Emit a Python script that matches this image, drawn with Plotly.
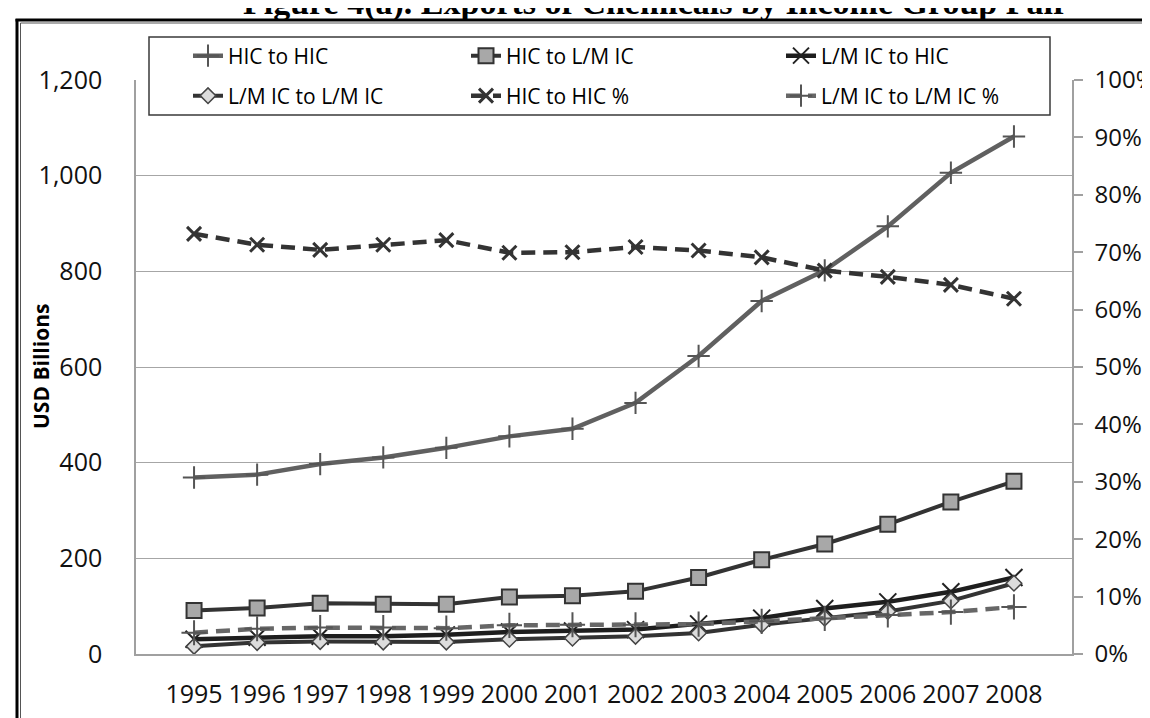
import plotly.graph_objects as go

years = ["1995", "1996", "1997", "1998", "1999", "2000", "2001",
         "2002", "2003", "2004", "2005", "2006", "2007", "2008"]

hic_to_hic = [369, 375, 397, 411, 431, 455, 471, 525, 623, 738, 802, 894, 1006, 1082]
hic_to_lmic = [91, 96, 106, 104, 104, 119, 122, 131, 160, 197, 230, 271, 318, 361]
lmic_to_hic = [31, 35, 37, 37, 40, 46, 48, 51, 63, 75, 95, 109, 130, 160]
lmic_to_lmic = [16, 24, 26, 25, 25, 31, 33, 37, 44, 61, 75, 89, 111, 148]
hic_to_hic_pct = [0.732, 0.713, 0.704, 0.713, 0.721, 0.699, 0.700, 0.709, 0.703,
                  0.691, 0.668, 0.657, 0.643, 0.619]
lmic_to_lmic_pct = [0.037, 0.044, 0.046, 0.046, 0.045, 0.050, 0.051, 0.051, 0.052,
                    0.057, 0.062, 0.068, 0.073, 0.082]

W, H = 1150, 718
L, R, T, B = 128, 1064, 72, 646


def px(x):
    return (x - L) / (R - L)


def py(y):
    return (B - y) / (B - T)


FONT = "Open Sans"
TICK = 25
LEG = 21

fig = go.Figure()

fig.add_trace(go.Scatter(
    x=years, y=hic_to_hic, name="HIC to HIC", mode="lines+markers", legend="legend",
    line=dict(color="#606060", width=4.5),
    marker=dict(symbol="cross-thin", size=16, line=dict(color="#555555", width=2))))

fig.add_trace(go.Scatter(
    x=years, y=hic_to_lmic, name="HIC to L/M IC", mode="lines+markers", legend="legend2",
    line=dict(color="#333333", width=4),
    marker=dict(symbol="square", size=15, color="#a8a8a8",
                line=dict(color="#333333", width=2))))

fig.add_trace(go.Scatter(
    x=years, y=lmic_to_hic, name="L/M IC to HIC", mode="lines+markers", legend="legend3",
    line=dict(color="#1e1e1e", width=4.5),
    marker=dict(symbol="x-thin", size=17, line=dict(color="#222222", width=2))))

fig.add_trace(go.Scatter(
    x=years, y=lmic_to_lmic, name="L/M IC to L/M IC", mode="lines+markers", legend="legend4",
    line=dict(color="#333333", width=4),
    marker=dict(symbol="diamond", size=12, color="#dcdcdc",
                line=dict(color="#444444", width=1.5))))

fig.add_trace(go.Scatter(
    x=years, y=hic_to_hic_pct, name="HIC to HIC %", mode="lines+markers", yaxis="y2",
    legend="legend5",
    line=dict(color="#333333", width=4.5, dash="14px,8px"),
    marker=dict(symbol="x-thin", size=14, line=dict(color="#333333", width=3))))

fig.add_trace(go.Scatter(
    x=years, y=lmic_to_lmic_pct, name="L/M IC to L/M IC %", mode="lines+markers", yaxis="y2",
    legend="legend6",
    line=dict(color="#676767", width=4.5, dash="14px,8px"),
    marker=dict(symbol="cross-thin", size=18, line=dict(color="#555555", width=2))))

shapes = [
    # outer page frame (double line)
    dict(type="line", xref="paper", yref="paper", x0=px(9), x1=px(9), y0=py(11), y1=py(760),
         line=dict(color="#000000", width=3)),
    dict(type="line", xref="paper", yref="paper", x0=px(7.5), x1=px(1200), y0=py(12), y1=py(12),
         line=dict(color="#000000", width=3)),
    dict(type="line", xref="paper", yref="paper", x0=px(12.5), x1=px(12.5), y0=py(15), y1=py(760),
         line=dict(color="#555555", width=1)),
    dict(type="line", xref="paper", yref="paper", x0=px(12.5), x1=px(1200), y0=py(15), y1=py(15),
         line=dict(color="#555555", width=1)),
    # legend frame
    dict(type="rect", xref="paper", yref="paper", x0=px(141), x1=px(1042), y0=py(29), y1=py(107),
         line=dict(color="#3a3a3a", width=1.5), fillcolor="white", layer="above"),
]

annotations = [
    dict(text="<b>Figure 4(a). Exports of Chemicals by Income Group Pair</b>",
         xref="paper", yref="paper", x=px(647), y=py(16), xanchor="center", yanchor="bottom",
         showarrow=False, font=dict(family="Liberation Serif", size=34, color="#000000")),
    dict(text="<b>USD Billions</b>", xref="paper", yref="paper", x=px(33), y=0.5,
         xanchor="center", yanchor="middle", textangle=-90, showarrow=False,
         font=dict(family=FONT, size=21, color="#000000")),
]


def leg(xpix, ypix):
    return dict(orientation="h", x=px(xpix), y=py(ypix), xanchor="left", yanchor="middle",
                bgcolor="rgba(0,0,0,0)", borderwidth=0,
                font=dict(family=FONT, size=LEG, color="#000000"))


fig.update_layout(
    width=W, height=H,
    margin=dict(l=L, r=W - R, t=T, b=H - B, autoexpand=False),
    paper_bgcolor="white", plot_bgcolor="white",
    font=dict(family=FONT, color="#000000"),
    showlegend=True,
    legend=leg(180, 48),
    legend2=leg(458, 48),
    legend3=leg(773, 48),
    legend4=leg(180, 88),
    legend5=leg(458, 88),
    legend6=leg(773, 88),
    xaxis=dict(type="category", showgrid=False, showline=True, linecolor="#a0a0a0",
               linewidth=1.5, ticks="", tickfont=dict(size=TICK, color="#111111"),
               ticklabelstandoff=17, zeroline=False, fixedrange=True),
    yaxis=dict(range=[0, 1200], dtick=200, tickformat=",", showgrid=True,
               gridcolor="#a6a6a6", gridwidth=1.3, showline=True, linecolor="#a0a0a0",
               linewidth=1.5, ticks="", tickfont=dict(size=TICK, color="#111111"),
               ticklabelstandoff=27, zeroline=False),
    yaxis2=dict(range=[0, 1], dtick=0.1, tickformat=".0%", overlaying="y", side="right",
                showgrid=False, showline=True, linecolor="#a0a0a0", linewidth=1.5,
                ticks="outside", ticklen=9, tickcolor="#a0a0a0", tickwidth=1.5,
                tickfont=dict(size=24, color="#111111"), ticklabelstandoff=7,
                zeroline=False),
    shapes=shapes,
    annotations=annotations,
)

fig.write_html("out.html")
